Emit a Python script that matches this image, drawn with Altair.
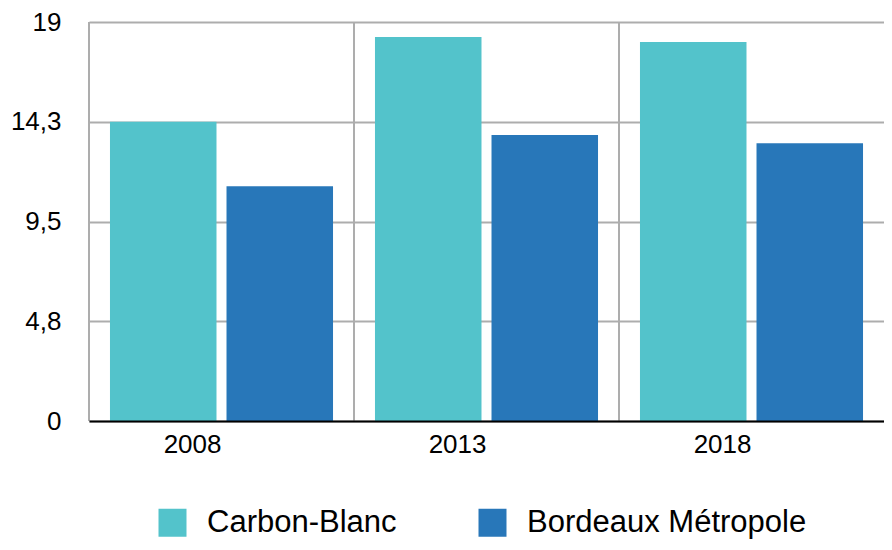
import altair as alt
import pandas as pd

years = ["2008", "2013", "2018"]
series = ["Carbon-Blanc", "Bordeaux Métropole"]
carbon_blanc = [14.25, 18.28, 18.05]
bordeaux = [11.18, 13.62, 13.23]
colors = ["#53C3CB", "#2877B9"]
y_ticks = [0, 4.75, 9.5, 14.25, 19]
y_tick_labels = ["0", "4,8", "9,5", "14,3", "19"]

rows = []
for i, yr in enumerate(years):
    rows.append({"year": yr, "serie": series[0], "value": carbon_blanc[i]})
    rows.append({"year": yr, "serie": series[1], "value": bordeaux[i]})
df = pd.DataFrame(rows)

label_expr = "''"
for v, l in zip(reversed(y_ticks), reversed(y_tick_labels)):
    label_expr = f"datum.value == {v} ? '{l}' : ({label_expr})"

FONT = "Liberation Sans"

x_scale = alt.Scale(paddingInner=0, paddingOuter=0)

bars = alt.Chart(df).mark_bar().encode(
    x=alt.X("year:N", scale=x_scale, sort=years,
            axis=alt.Axis(title=None, labelAngle=0, labelFontSize=26, labelFont=FONT,
                          labelColor="#000000", labelPadding=23, ticks=False,
                          domainColor="#000000", domainWidth=2, grid=False, zindex=2)),
    xOffset=alt.XOffset("serie:N", sort=series,
                        scale=alt.Scale(paddingInner=0.086, paddingOuter=0.18)),
    y=alt.Y("value:Q", scale=alt.Scale(domain=[0, 19], nice=False),
            axis=alt.Axis(title=None, values=y_ticks, labelExpr=label_expr,
                          labelFontSize=26, labelFont=FONT, labelColor="#000000",
                          labelPadding=28, ticks=False, domain=False,
                          grid=True, gridColor="#ADADAD", gridWidth=2)),
    color=alt.Color("serie:N", sort=series,
                    scale=alt.Scale(domain=series, range=colors),
                    legend=alt.Legend(title=None, orient="none", direction="horizontal",
                                      legendX=68, legendY=485, symbolType="square",
                                      symbolSize=784, symbolStrokeWidth=0,
                                      labelFontSize=31, labelFont=FONT, labelColor="#000000",
                                      labelOffset=19, labelLimit=0, columnPadding=80,
                                      padding=0)),
)

vlines = alt.Chart(pd.DataFrame({"year": years})).mark_rule(
    color="#ADADAD", strokeWidth=2
).encode(
    x=alt.X("year:N", sort=years, bandPosition=0),
)

chart = alt.layer(vlines, bars).properties(
    width=795, height=399,
    padding={"left": 81, "top": 14, "right": 0, "bottom": 121},
    autosize=alt.AutoSizeParams(type="none"),
).configure_view(stroke=None)

chart.save("out.html", embed_options={"renderer": "svg", "actions": False})
